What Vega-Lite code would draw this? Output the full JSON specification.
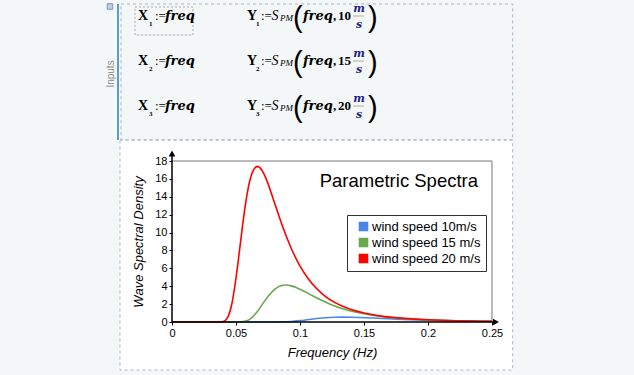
{
  "$schema": "https://vega.github.io/schema/vega-lite/v6.json",
  "width": 320,
  "height": 161,
  "autosize": "none",
  "padding": {"left": 172, "top": 161, "right": 142, "bottom": 53},
  "background": "#f3f7f7",
  "config": {
    "view": {"stroke": null},
    "font": "Liberation Sans",
    "axis": {"labelOverlap": false},
    "axisY": {"tickCount": 10},
    "axisX": {"tickCount": 6}
  },
  "datasets": {
    "spectra": [
      {"f": 0, "S": 0, "series": "wind speed 10m/s"},
      {"f": 0.075, "S": 0, "series": "wind speed 10m/s"},
      {"f": 0.08, "S": 0.002, "series": "wind speed 10m/s"},
      {"f": 0.0867, "S": 0.015, "series": "wind speed 10m/s"},
      {"f": 0.0933, "S": 0.062, "series": "wind speed 10m/s"},
      {"f": 0.1, "S": 0.154, "series": "wind speed 10m/s"},
      {"f": 0.1067, "S": 0.274, "series": "wind speed 10m/s"},
      {"f": 0.1133, "S": 0.391, "series": "wind speed 10m/s"},
      {"f": 0.12, "S": 0.479, "series": "wind speed 10m/s"},
      {"f": 0.1267, "S": 0.53, "series": "wind speed 10m/s"},
      {"f": 0.1333, "S": 0.545, "series": "wind speed 10m/s"},
      {"f": 0.14, "S": 0.533, "series": "wind speed 10m/s"},
      {"f": 0.1467, "S": 0.503, "series": "wind speed 10m/s"},
      {"f": 0.16, "S": 0.418, "series": "wind speed 10m/s"},
      {"f": 0.1733, "S": 0.331, "series": "wind speed 10m/s"},
      {"f": 0.1867, "S": 0.255, "series": "wind speed 10m/s"},
      {"f": 0.2, "S": 0.196, "series": "wind speed 10m/s"},
      {"f": 0.2133, "S": 0.15, "series": "wind speed 10m/s"},
      {"f": 0.24, "S": 0.089, "series": "wind speed 10m/s"},
      {"f": 0.25, "S": 0.074, "series": "wind speed 10m/s"},
      {"f": 0, "S": 0, "series": "wind speed 15 m/s"},
      {"f": 0.05, "S": 0, "series": "wind speed 15 m/s"},
      {"f": 0.0533, "S": 0.012, "series": "wind speed 15 m/s"},
      {"f": 0.0578, "S": 0.11, "series": "wind speed 15 m/s"},
      {"f": 0.0622, "S": 0.47, "series": "wind speed 15 m/s"},
      {"f": 0.0667, "S": 1.17, "series": "wind speed 15 m/s"},
      {"f": 0.0711, "S": 2.08, "series": "wind speed 15 m/s"},
      {"f": 0.0756, "S": 2.96, "series": "wind speed 15 m/s"},
      {"f": 0.08, "S": 3.63, "series": "wind speed 15 m/s"},
      {"f": 0.0845, "S": 4.02, "series": "wind speed 15 m/s"},
      {"f": 0.0889, "S": 4.13, "series": "wind speed 15 m/s"},
      {"f": 0.0933, "S": 4.04, "series": "wind speed 15 m/s"},
      {"f": 0.0978, "S": 3.81, "series": "wind speed 15 m/s"},
      {"f": 0.1067, "S": 3.17, "series": "wind speed 15 m/s"},
      {"f": 0.1156, "S": 2.51, "series": "wind speed 15 m/s"},
      {"f": 0.1245, "S": 1.94, "series": "wind speed 15 m/s"},
      {"f": 0.1334, "S": 1.48, "series": "wind speed 15 m/s"},
      {"f": 0.1422, "S": 1.14, "series": "wind speed 15 m/s"},
      {"f": 0.16, "S": 0.68, "series": "wind speed 15 m/s"},
      {"f": 0.1778, "S": 0.42, "series": "wind speed 15 m/s"},
      {"f": 0.2, "S": 0.24, "series": "wind speed 15 m/s"},
      {"f": 0.2223, "S": 0.14, "series": "wind speed 15 m/s"},
      {"f": 0.25, "S": 0.08, "series": "wind speed 15 m/s"},
      {"f": 0, "S": 0, "series": "wind speed 20 m/s"},
      {"f": 0.036, "S": 0, "series": "wind speed 20 m/s"},
      {"f": 0.04, "S": 0.05, "series": "wind speed 20 m/s"},
      {"f": 0.0434, "S": 0.48, "series": "wind speed 20 m/s"},
      {"f": 0.0467, "S": 1.98, "series": "wind speed 20 m/s"},
      {"f": 0.05, "S": 4.92, "series": "wind speed 20 m/s"},
      {"f": 0.0534, "S": 8.76, "series": "wind speed 20 m/s"},
      {"f": 0.0567, "S": 12.48, "series": "wind speed 20 m/s"},
      {"f": 0.06, "S": 15.31, "series": "wind speed 20 m/s"},
      {"f": 0.0634, "S": 16.92, "series": "wind speed 20 m/s"},
      {"f": 0.0667, "S": 17.4, "series": "wind speed 20 m/s"},
      {"f": 0.07, "S": 17.02, "series": "wind speed 20 m/s"},
      {"f": 0.0734, "S": 16.06, "series": "wind speed 20 m/s"},
      {"f": 0.08, "S": 13.36, "series": "wind speed 20 m/s"},
      {"f": 0.0867, "S": 10.56, "series": "wind speed 20 m/s"},
      {"f": 0.0934, "S": 8.16, "series": "wind speed 20 m/s"},
      {"f": 0.1, "S": 6.25, "series": "wind speed 20 m/s"},
      {"f": 0.1067, "S": 4.79, "series": "wind speed 20 m/s"},
      {"f": 0.12, "S": 2.85, "series": "wind speed 20 m/s"},
      {"f": 0.1334, "S": 1.76, "series": "wind speed 20 m/s"},
      {"f": 0.15, "S": 1.0, "series": "wind speed 20 m/s"},
      {"f": 0.1667, "S": 0.6, "series": "wind speed 20 m/s"},
      {"f": 0.2, "S": 0.25, "series": "wind speed 20 m/s"},
      {"f": 0.25, "S": 0.08, "series": "wind speed 20 m/s"}
    ],
    "inputs": [
      {"row": 1, "n": "1", "v": "10"},
      {"row": 2, "n": "2", "v": "15"},
      {"row": 3, "n": "3", "v": "20"}
    ]
  },
  "resolve": {"scale": {"x": "independent", "y": "independent"}},
  "layer": [
    {
      "layer": [
        {
          "data": {"values": [{}]},
          "mark": {"type": "rect", "fill": "white", "stroke": "#a3b6c9", "strokeDash": [3, 3], "strokeWidth": 1},
          "encoding": {
            "x": {"datum": -0.040625, "type": "quantitative", "scale": {"domain": [0, 0.25], "nice": false}},
            "x2": {"datum": 0.26617},
            "y": {"datum": -5.37, "type": "quantitative", "scale": {"domain": [0, 18], "nice": false}},
            "y2": {"datum": 20.35}
          }
        },
        {
          "data": {"values": [{}]},
          "mark": {"type": "rect", "fill": null, "stroke": "#a3b6c9", "strokeDash": [3, 3], "strokeWidth": 1},
          "encoding": {
            "x": {"datum": -0.0398, "type": "quantitative", "scale": {"domain": [0, 0.25], "nice": false}},
            "x2": {"datum": 0.26617},
            "y": {"datum": 20.35, "type": "quantitative", "scale": {"domain": [0, 18], "nice": false}},
            "y2": {"datum": 35.55}
          }
        },
        {
          "data": {"values": [{}]},
          "mark": {"type": "rect", "fill": null, "stroke": "#a8a8a8", "strokeDash": [2, 2], "strokeWidth": 1},
          "encoding": {
            "x": {"datum": -0.0289, "type": "quantitative", "scale": {"domain": [0, 0.25], "nice": false}},
            "x2": {"datum": 0.0164},
            "y": {"datum": 32.09, "type": "quantitative", "scale": {"domain": [0, 18], "nice": false}},
            "y2": {"datum": 35.22}
          }
        },
        {
          "data": {"values": [{}]},
          "mark": {"type": "rule", "color": "#5b9bd5", "strokeWidth": 2},
          "encoding": {
            "x": {"datum": -0.04219, "type": "quantitative", "scale": {"domain": [0, 0.25], "nice": false}},
            "y": {"datum": 20.35, "type": "quantitative", "scale": {"domain": [0, 18], "nice": false}},
            "y2": {"datum": 35.55}
          }
        },
        {
          "data": {"values": [{}]},
          "mark": {"type": "point", "shape": "square", "filled": true, "fill": "#c5cbe6", "stroke": "#7f8fc0", "strokeWidth": 1, "size": 30, "opacity": 1},
          "encoding": {
            "x": {"datum": -0.04844, "type": "quantitative", "scale": {"domain": [0, 0.25], "nice": false}},
            "y": {"datum": 35.27, "type": "quantitative", "scale": {"domain": [0, 18], "nice": false}}
          }
        },
        {
          "data": {"values": [{}]},
          "mark": {"type": "text", "angle": 270, "align": "center", "baseline": "middle", "fontSize": 10, "color": "#8a8a8a", "font": "Liberation Sans"},
          "encoding": {
            "x": {"datum": -0.04766, "type": "quantitative", "scale": {"domain": [0, 0.25], "nice": false}},
            "y": {"datum": 27.73, "type": "quantitative", "scale": {"domain": [0, 18], "nice": false}},
            "text": {"value": "Inputs"}
          }
        },
        {
          "data": {"values": [{}]},
          "mark": {"type": "rule", "color": "#777777", "strokeWidth": 1},
          "encoding": {
            "x": {"datum": 0, "type": "quantitative", "scale": {"domain": [0, 0.25], "nice": false}},
            "x2": {"datum": 0.25},
            "y": {"datum": 18, "type": "quantitative", "scale": {"domain": [0, 18], "nice": false}}
          }
        },
        {
          "data": {"values": [{}]},
          "mark": {"type": "rule", "color": "#777777", "strokeWidth": 1},
          "encoding": {
            "x": {"datum": 0.25, "type": "quantitative", "scale": {"domain": [0, 0.25], "nice": false}},
            "y": {"datum": 0, "type": "quantitative", "scale": {"domain": [0, 18], "nice": false}},
            "y2": {"datum": 18}
          }
        },
        {
          "data": {"name": "spectra"},
          "mark": {"type": "line", "interpolate": "monotone"},
          "encoding": {
            "x": {
              "field": "f", "type": "quantitative",
              "scale": {"domain": [0, 0.25], "nice": false},
              "axis": {"zindex": 1, "values": [0, 0.05, 0.1, 0.15, 0.2, 0.25], "format": "~g", "title": "Frequency (Hz)", "domain": false, "grid": false, "tickSize": 3, "tickColor": "black", "labelColor": "black", "labelFontSize": 11, "labelPadding": 2, "labelFlush": false, "labelOverlap": false, "titleFontSize": 13, "titleFontStyle": "italic", "titleFontWeight": "normal", "titleColor": "black", "titlePadding": 8}
            },
            "y": {
              "field": "S", "type": "quantitative",
              "scale": {"domain": [0, 18], "nice": false},
              "axis": {"zindex": 1, "values": [0, 2, 4, 6, 8, 10, 12, 14, 16, 18], "title": "Wave Spectral Density", "domain": false, "grid": false, "tickSize": 3, "tickColor": "black", "labelColor": "black", "labelFontSize": 11, "labelPadding": 2, "labelFlush": false, "labelOverlap": false, "titleFontSize": 13, "titleFontStyle": "italic", "titleFontWeight": "normal", "titleColor": "black", "titlePadding": 9}
            },
            "color": {
              "field": "series", "type": "nominal",
              "scale": {"domain": ["wind speed 10m/s", "wind speed 15 m/s", "wind speed 20 m/s"], "range": ["#4a86e8", "#6aa84f", "#ff0000"]},
              "legend": {"orient": "none", "legendX": 175, "legendY": 54, "title": null, "padding": 5, "strokeColor": "#333333", "fillColor": "white", "symbolType": "square", "symbolSize": 64, "symbolOffset": 5, "symbolStrokeWidth": 1, "labelFontSize": 13, "labelOffset": 2, "rowPadding": 1, "labelColor": "black", "labelFont": "Liberation Sans",
                "encode": {"symbols": {"update": {"fill": {"scale": "color", "field": "value"}, "stroke": {"value": "#333333"}, "strokeWidth": {"value": 1}, "opacity": {"value": 1}}}}}
            },
            "strokeWidth": {
              "field": "series", "type": "nominal",
              "scale": {"domain": ["wind speed 10m/s", "wind speed 15 m/s", "wind speed 20 m/s"], "range": [1.6, 1.6, 2.3]},
              "legend": null
            }
          }
        },
        {
          "data": {"values": [{}]},
          "mark": {"type": "rule", "color": "black", "strokeWidth": 1.5},
          "encoding": {
            "x": {"datum": 0, "type": "quantitative", "scale": {"domain": [0, 0.25], "nice": false}},
            "x2": {"datum": 0.2535},
            "y": {"datum": 0, "type": "quantitative", "scale": {"domain": [0, 18], "nice": false}}
          }
        },
        {
          "data": {"values": [{}]},
          "mark": {"type": "rule", "color": "black", "strokeWidth": 1.5},
          "encoding": {
            "x": {"datum": 0, "type": "quantitative", "scale": {"domain": [0, 0.25], "nice": false}},
            "y": {"datum": 0, "type": "quantitative", "scale": {"domain": [0, 18], "nice": false}},
            "y2": {"datum": 18.9}
          }
        },
        {
          "data": {"values": [{}]},
          "mark": {"type": "point", "shape": "triangle-up", "filled": true, "color": "black", "size": 45, "opacity": 1},
          "encoding": {
            "x": {"datum": 0, "type": "quantitative", "scale": {"domain": [0, 0.25], "nice": false}},
            "y": {"datum": 18.84, "type": "quantitative", "scale": {"domain": [0, 18], "nice": false}}
          }
        },
        {
          "data": {"values": [{}]},
          "mark": {"type": "point", "shape": "triangle-right", "filled": true, "color": "black", "size": 45, "opacity": 1},
          "encoding": {
            "x": {"datum": 0.2531, "type": "quantitative", "scale": {"domain": [0, 0.25], "nice": false}},
            "y": {"datum": 0, "type": "quantitative", "scale": {"domain": [0, 18], "nice": false}}
          }
        },
        {
          "data": {"values": [{}]},
          "mark": {"type": "text", "align": "right", "baseline": "alphabetic", "fontSize": 18.5, "font": "Liberation Sans", "color": "black"},
          "encoding": {
            "x": {"datum": 0.2391, "type": "quantitative", "scale": {"domain": [0, 0.25], "nice": false}},
            "y": {"datum": 15.13, "type": "quantitative", "scale": {"domain": [0, 18], "nice": false}},
            "text": {"value": "Parametric Spectra"}
          }
        }
      ]
    },
    {
      "data": {"name": "inputs"},
      "encoding": {
        "y": {"field": "row", "type": "ordinal", "scale": {"type": "point", "range": [-145, -55], "padding": 0}, "axis": null}
      },
      "layer": [
        {
          "mark": {"type": "text", "align": "left", "baseline": "middle", "font": "Liberation Serif", "fontWeight": "bold", "fontSize": 14, "color": "black"},
          "encoding": {"x": {"datum": -0.02656, "type": "quantitative", "scale": {"domain": [0, 0.25], "nice": false}, "axis": null}, "text": {"value": "X"}}
        },
        {
          "mark": {"type": "text", "align": "left", "baseline": "middle", "font": "Liberation Serif", "fontWeight": "bold", "fontSize": 7, "dy": 8, "color": "black"},
          "encoding": {"x": {"datum": -0.01797, "type": "quantitative", "scale": {"domain": [0, 0.25], "nice": false}, "axis": null}, "text": {"field": "n"}}
        },
        {
          "mark": {"type": "text", "align": "left", "baseline": "middle", "font": "Liberation Serif", "fontSize": 13, "color": "black"},
          "encoding": {"x": {"datum": -0.01328, "type": "quantitative", "scale": {"domain": [0, 0.25], "nice": false}, "axis": null}, "text": {"value": ":="}}
        },
        {
          "mark": {"type": "text", "align": "left", "baseline": "middle", "font": "DejaVu Serif", "fontWeight": "bold", "fontStyle": "italic", "fontSize": 13, "color": "black"},
          "encoding": {"x": {"datum": -0.00547, "type": "quantitative", "scale": {"domain": [0, 0.25], "nice": false}, "axis": null}, "text": {"value": "freq"}}
        },
        {
          "mark": {"type": "text", "align": "left", "baseline": "middle", "font": "Liberation Serif", "fontWeight": "bold", "fontSize": 14, "color": "black"},
          "encoding": {"x": {"datum": 0.05859, "type": "quantitative", "scale": {"domain": [0, 0.25], "nice": false}, "axis": null}, "text": {"value": "Y"}}
        },
        {
          "mark": {"type": "text", "align": "left", "baseline": "middle", "font": "Liberation Serif", "fontWeight": "bold", "fontSize": 7, "dy": 8, "color": "black"},
          "encoding": {"x": {"datum": 0.06563, "type": "quantitative", "scale": {"domain": [0, 0.25], "nice": false}, "axis": null}, "text": {"field": "n"}}
        },
        {
          "mark": {"type": "text", "align": "left", "baseline": "middle", "font": "Liberation Serif", "fontSize": 13, "color": "black"},
          "encoding": {"x": {"datum": 0.06953, "type": "quantitative", "scale": {"domain": [0, 0.25], "nice": false}, "axis": null}, "text": {"value": ":="}}
        },
        {
          "mark": {"type": "text", "align": "left", "baseline": "middle", "font": "Liberation Serif", "fontStyle": "italic", "fontSize": 14, "color": "black"},
          "encoding": {"x": {"datum": 0.07773, "type": "quantitative", "scale": {"domain": [0, 0.25], "nice": false}, "axis": null}, "text": {"value": "S"}}
        },
        {
          "mark": {"type": "text", "align": "left", "baseline": "middle", "font": "Liberation Serif", "fontStyle": "italic", "fontSize": 9, "dy": 2, "color": "black"},
          "encoding": {"x": {"datum": 0.08438, "type": "quantitative", "scale": {"domain": [0, 0.25], "nice": false}, "axis": null}, "text": {"value": "PM"}}
        },
        {
          "mark": {"type": "text", "align": "left", "baseline": "middle", "font": "Liberation Sans", "fontSize": 29, "dy": 2, "color": "black"},
          "encoding": {"x": {"datum": 0.09453, "type": "quantitative", "scale": {"domain": [0, 0.25], "nice": false}, "axis": null}, "text": {"value": "("}}
        },
        {
          "mark": {"type": "text", "align": "left", "baseline": "middle", "font": "DejaVu Serif", "fontWeight": "bold", "fontStyle": "italic", "fontSize": 13, "color": "black"},
          "encoding": {"x": {"datum": 0.10234, "type": "quantitative", "scale": {"domain": [0, 0.25], "nice": false}, "axis": null}, "text": {"value": "freq"}}
        },
        {
          "mark": {"type": "text", "align": "left", "baseline": "middle", "font": "Liberation Serif", "fontWeight": "bold", "fontSize": 13, "color": "black"},
          "encoding": {"x": {"datum": 0.1258, "type": "quantitative", "scale": {"domain": [0, 0.25], "nice": false}, "axis": null}, "text": {"value": ","}}
        },
        {
          "mark": {"type": "text", "align": "left", "baseline": "middle", "font": "Liberation Serif", "fontWeight": "bold", "fontSize": 13, "color": "black"},
          "encoding": {"x": {"datum": 0.12969, "type": "quantitative", "scale": {"domain": [0, 0.25], "nice": false}, "axis": null}, "text": {"field": "v"}}
        },
        {
          "mark": {"type": "text", "align": "center", "baseline": "middle", "font": "DejaVu Serif", "fontWeight": "bold", "fontStyle": "italic", "fontSize": 11, "dy": -7, "color": "#24248a"},
          "encoding": {"x": {"datum": 0.14609, "type": "quantitative", "scale": {"domain": [0, 0.25], "nice": false}, "axis": null}, "text": {"value": "m"}}
        },
        {
          "mark": {"type": "rule", "color": "#b8ab88", "strokeWidth": 1},
          "encoding": {"x": {"datum": 0.14141, "type": "quantitative", "scale": {"domain": [0, 0.25], "nice": false}, "axis": null}, "x2": {"datum": 0.15}}
        },
        {
          "mark": {"type": "text", "align": "center", "baseline": "middle", "font": "DejaVu Serif", "fontWeight": "bold", "fontStyle": "italic", "fontSize": 11, "dy": 9, "color": "#24248a"},
          "encoding": {"x": {"datum": 0.14609, "type": "quantitative", "scale": {"domain": [0, 0.25], "nice": false}, "axis": null}, "text": {"value": "s"}}
        },
        {
          "mark": {"type": "text", "align": "left", "baseline": "middle", "font": "Liberation Sans", "fontSize": 29, "dy": 2, "color": "black"},
          "encoding": {"x": {"datum": 0.15313, "type": "quantitative", "scale": {"domain": [0, 0.25], "nice": false}, "axis": null}, "text": {"value": ")"}}
        }
      ]
    }
  ]
}
